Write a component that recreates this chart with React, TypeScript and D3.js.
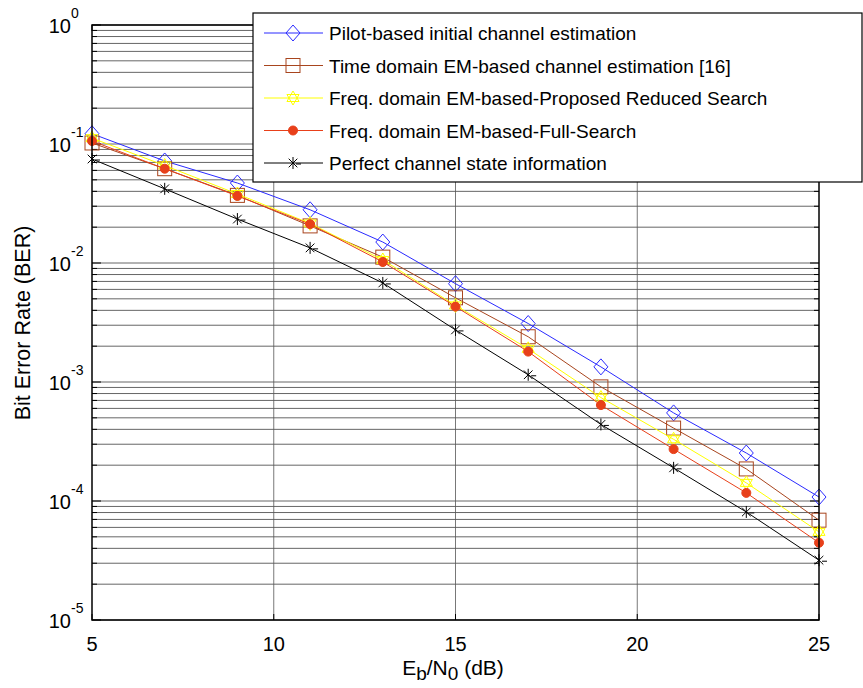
import React from 'react';
import * as d3 from 'd3';

const snr = [5, 7, 9, 11, 13, 15, 17, 19, 21, 23, 25];
const pilotBer = [0.122, 0.072, 0.047, 0.028, 0.015, 0.0067, 0.0031, 0.00134, 0.00055, 0.000253, 0.000108];
const timeEmBer = [0.102, 0.062, 0.037, 0.0205, 0.0112, 0.0051, 0.0024, 0.00091, 0.00041, 0.000186, 0.000069];
const reducedBer = [0.112, 0.066, 0.038, 0.0215, 0.0106, 0.0044, 0.0019, 0.00074, 0.00033, 0.000142, 0.000055];
const fullBer = [0.106, 0.062, 0.0366, 0.0212, 0.0102, 0.0043, 0.0018, 0.00064, 0.000273, 0.000117, 0.0000446];
const perfectBer = [0.0748, 0.042, 0.0234, 0.0134, 0.0068, 0.00274, 0.00115, 0.00044, 0.00019, 0.0000809, 0.0000318];
const xTicks = [5, 10, 15, 20, 25];
const yExponents = [0, -1, -2, -3, -4, -5];

const seriesList = [
  { name: 'Pilot-based initial channel estimation', values: pilotBer, color: '#2a2aff', marker: 'diamond' },
  { name: 'Time domain EM-based channel estimation [16]', values: timeEmBer, color: '#a8451e', marker: 'square' },
  { name: 'Freq. domain EM-based-Proposed Reduced Search', values: reducedBer, color: '#ffff00', marker: 'hexagram' },
  { name: 'Freq. domain EM-based-Full-Search', values: fullBer, color: '#e8401a', marker: 'circle' },
  { name: 'Perfect channel state information', values: perfectBer, color: '#000000', marker: 'asterisk' },
];

const margin = { top: 25, left: 92, right: 819, bottom: 620 };
const font = 'Arial, "Liberation Sans", sans-serif';

function Marker({ type, x, y, color }: { type: string; x: number; y: number; color: string }) {
  if (type === 'diamond') {
    return <path d={`M${x},${y - 8}L${x + 7},${y}L${x},${y + 8}L${x - 7},${y}Z`} fill="none" stroke={color} strokeWidth={1} />;
  }
  if (type === 'square') {
    return <rect x={x - 7} y={y - 7} width={14} height={14} fill="none" stroke={color} strokeWidth={1} />;
  }
  if (type === 'hexagram') {
    const r = 7;
    const tri = (rot: number) =>
      d3.range(3).map(i => {
        const a = rot + (i * 2 * Math.PI) / 3;
        return `${x + r * Math.sin(a)},${y - r * Math.cos(a)}`;
      }).join(' ');
    return (
      <g fill="none" stroke={color} strokeWidth={1}>
        <polygon points={tri(0)} />
        <polygon points={tri(Math.PI)} />
      </g>
    );
  }
  if (type === 'circle') {
    return <circle cx={x} cy={y} r={4.5} fill={color} stroke={color} />;
  }
  const r = 6;
  const d = r * 0.72;
  return (
    <g stroke={color} strokeWidth={1}>
      <line x1={x} y1={y - r} x2={x} y2={y + r} />
      <line x1={x - d} y1={y - d} x2={x + d} y2={y + d} />
      <line x1={x - d} y1={y + d} x2={x + d} y2={y - d} />
      <line x1={x + 3} y1={y + 1} x2={x + 8} y2={y + 1} />
    </g>
  );
}

export default function App() {
  const xScale = d3.scaleLinear().domain([5, 25]).range([margin.left, margin.right]);
  const yScale = d3.scaleLog().domain([1e-5, 1]).range([margin.bottom, margin.top]);

  const minorVals: number[] = [];
  yExponents.forEach(e => {
    if (e === 0) return;
    for (let k = 2; k <= 9; k++) minorVals.push(k * Math.pow(10, e));
  });

  const line = d3.line<number>()
    .x((_, i) => xScale(snr[i]))
    .y(d => yScale(d));

  const legendX = 253;
  const legendY = 13;
  const rowGap = 32.5;

  return (
    <div style={{ position: 'absolute', left: 0, top: 0 }}>
      <svg width={863} height={688} style={{ display: 'block', background: '#fff' }}>
        {/* horizontal grid */}
        {minorVals.concat(yExponents.map(e => Math.pow(10, e))).map((v, i) => (
          <line key={'h' + i} x1={margin.left} x2={margin.right} y1={yScale(v)} y2={yScale(v)}
            stroke="#666" strokeWidth={1} />
        ))}
        {/* vertical grid */}
        {xTicks.slice(1, -1).map(t => (
          <line key={'v' + t} x1={xScale(t)} x2={xScale(t)} y1={margin.top} y2={margin.bottom}
            stroke="#555" strokeWidth={0.8} />
        ))}

        {/* y ticks */}
        {minorVals.map((v, i) => (
          <g key={'mt' + i} stroke="#000" strokeWidth={1}>
            <line x1={margin.left} x2={margin.left + 5} y1={yScale(v)} y2={yScale(v)} />
            <line x1={margin.right - 5} x2={margin.right} y1={yScale(v)} y2={yScale(v)} />
          </g>
        ))}
        {yExponents.map(e => (
          <g key={'yt' + e}>
            <line x1={margin.left} x2={margin.left + 9} y1={yScale(Math.pow(10, e))} y2={yScale(Math.pow(10, e))} stroke="#000" />
            <line x1={margin.right - 9} x2={margin.right} y1={yScale(Math.pow(10, e))} y2={yScale(Math.pow(10, e))} stroke="#000" />
            <text x={71} y={yScale(Math.pow(10, e)) + 8} textAnchor="end" fontFamily={font} fontSize={20}>10</text>
            <text x={71} y={yScale(Math.pow(10, e)) - 7} fontFamily={font} fontSize={14}>{e}</text>
          </g>
        ))}
        {/* x ticks */}
        {xTicks.map(t => (
          <g key={'xt' + t}>
            <line x1={xScale(t)} x2={xScale(t)} y1={margin.bottom} y2={margin.bottom - 6} stroke="#000" />
            <line x1={xScale(t)} x2={xScale(t)} y1={margin.top} y2={margin.top + 6} stroke="#000" />
            <text x={xScale(t)} y={651} textAnchor="middle" fontFamily={font} fontSize={20}>{t}</text>
          </g>
        ))}

        {/* series */}
        {seriesList.map(s => (
          <g key={s.name}>
            <path d={line(s.values) || ''} fill="none" stroke={s.color} strokeWidth={1} />
            {s.values.map((v, i) => (
              <Marker key={i} type={s.marker} x={xScale(snr[i])} y={yScale(v)} color={s.color} />
            ))}
          </g>
        ))}

        {/* axes box */}
        <rect x={margin.left} y={margin.top} width={margin.right - margin.left} height={margin.bottom - margin.top}
          fill="none" stroke="#000" strokeWidth={1.5} />

        {/* axis titles */}
        <text x={453} y={675} textAnchor="middle" fontFamily={font} fontSize={21}>
          E<tspan dy={5} fontSize={19}>b</tspan><tspan dy={-5}>/N</tspan><tspan dy={5} fontSize={19}>0</tspan><tspan dy={-5}> (dB)</tspan>
        </text>
        <text transform="translate(30,323) rotate(-90)" textAnchor="middle" fontFamily={font} fontSize={21.5}>
          Bit Error Rate (BER)
        </text>

        {/* legend */}
        <rect x={legendX} y={legendY} width={862 - legendX} height={182 - legendY} fill="#fff" stroke="#000" strokeWidth={1.2} />
        {seriesList.map((s, i) => {
          const yy = legendY + 20 + i * rowGap;
          return (
            <g key={'lg' + i}>
              <line x1={264} x2={323} y1={yy} y2={yy} stroke={s.color} strokeWidth={1} />
              <Marker type={s.marker} x={293} y={yy} color={s.color} />
              <text x={329} y={yy + 7} fontFamily={font} fontSize={19}>{s.name}</text>
            </g>
          );
        })}
      </svg>
    </div>
  );
}
